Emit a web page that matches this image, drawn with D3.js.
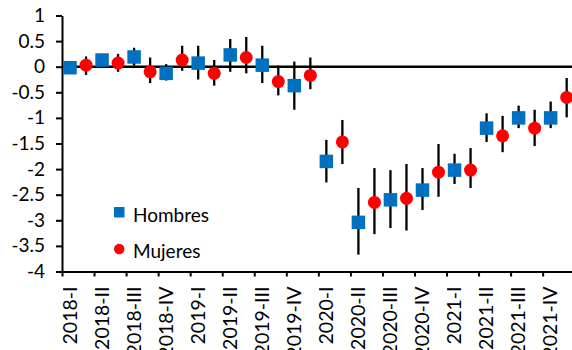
<!DOCTYPE html>
<html><head><meta charset="utf-8">
<script src="https://cdn.jsdelivr.net/npm/d3@7"></script>
<style>
html,body{margin:0;padding:0;background:#fff;}
svg{display:block;font-family:Lato, "Open Sans", sans-serif;}
</style></head>
<body>
<svg id="chart" width="572" height="350"></svg>
<script>
const quarters = ["2018-I","2018-II","2018-III","2018-IV","2019-I","2019-II","2019-III","2019-IV",
  "2020-I","2020-II","2020-III","2020-IV","2021-I","2021-II","2021-III","2021-IV"];
const hombres   = [-0.02, 0.13, 0.19, -0.13, 0.07, 0.23, 0.03, -0.37, -1.85, -3.04, -2.6, -2.41, -2.02, -1.2, -1.0, -1.0];
const hombresLo = [-0.12, 0.02, 0.02, -0.27, -0.25, -0.1, -0.32, -0.84, -2.26, -3.67, -3.15, -2.8, -2.29, -1.47, -1.2, -1.2];
const hombresHi = [0.1, 0.24, 0.37, 0.05, 0.41, 0.54, 0.41, 0.1, -1.43, -2.37, -2.02, -1.98, -1.7, -0.91, -0.76, -0.68];
const mujeres   = [0.03, 0.07, -0.1, 0.13, -0.13, 0.18, -0.29, -0.17, -1.47, -2.65, -2.57, -2.06, -2.02, -1.35, -1.2, -0.6];
const mujeresLo = [-0.16, -0.1, -0.32, -0.08, -0.37, -0.13, -0.56, -0.44, -1.9, -3.27, -3.2, -2.54, -2.37, -1.67, -1.55, -0.99];
const mujeresHi = [0.2, 0.25, 0.18, 0.41, 0.13, 0.58, 0.02, 0.18, -1.04, -1.98, -1.9, -1.51, -1.59, -0.96, -0.84, -0.22];
const yTicks = [1, 0.5, 0, -0.5, -1, -1.5, -2, -2.5, -3, -3.5, -4];
const seriesNames = ["Hombres", "Mujeres"];

const svg = d3.select("#chart");
const pLeft = 62, pRight = 574.7, pTop = 15.5, pBottom = 271.5;

const x = d3.scaleBand().domain(quarters).range([pLeft, pRight]).padding(0);
const bw = x.bandwidth();
const y = d3.scaleLinear().domain([-4, 1]).range([pBottom, pTop]);
const xh = q => x(q) + bw / 4;
const xm = q => x(q) + 3 * bw / 4;

// Y axis
const yAxis = svg.append("g").attr("transform", `translate(${pLeft},0)`)
  .call(d3.axisLeft(y).tickValues(yTicks).tickSize(6).tickSizeOuter(0).tickPadding(11).tickFormat(d => String(d)));
yAxis.select(".domain").attr("stroke", "#000").attr("stroke-width", 2);
yAxis.selectAll(".tick line").attr("stroke", "#000").attr("stroke-width", 2);
yAxis.selectAll("text").attr("font-size", 19).attr("fill", "#000").style("font-family", "Lato");

// X tick marks (category boundaries)
const xb = d3.scaleLinear().domain([0, quarters.length]).range([pLeft, pRight]);
const xTickAxis = svg.append("g").attr("transform", `translate(0,${pBottom})`)
  .call(d3.axisBottom(xb).tickValues(d3.range(0, quarters.length + 1)).tickSize(5).tickSizeOuter(0).tickFormat(""));
xTickAxis.select(".domain").attr("stroke", "#000").attr("stroke-width", 2);
xTickAxis.selectAll(".tick line").attr("stroke", "#000").attr("stroke-width", 2);

// X labels
const xLab = svg.append("g").attr("transform", `translate(${-bw / 4},${pBottom})`)
  .call(d3.axisBottom(x).tickSize(0).tickSizeOuter(0));
xLab.select(".domain").remove();
xLab.selectAll("text")
  .attr("font-size", 19.5).attr("fill", "#000").style("font-family", "Lato")
  .attr("transform", "rotate(-90)")
  .attr("x", -15).attr("y", 0).attr("dy", "0.35em")
  .style("text-anchor", "end");

// Zero line
svg.append("line").attr("x1", pLeft).attr("x2", 572).attr("y1", y(0)).attr("y2", y(0))
  .attr("stroke", "#000").attr("stroke-width", 2.5);

// Error bars
const eb = svg.append("g").attr("stroke", "#000").attr("stroke-width", 2.3);
eb.selectAll(".eh").data(quarters).join("line").attr("class", "eh")
  .attr("x1", d => xh(d)).attr("x2", d => xh(d))
  .attr("y1", (d, i) => y(hombresLo[i])).attr("y2", (d, i) => y(hombresHi[i]));
eb.selectAll(".em").data(quarters).join("line").attr("class", "em")
  .attr("x1", d => xm(d)).attr("x2", d => xm(d))
  .attr("y1", (d, i) => y(mujeresLo[i])).attr("y2", (d, i) => y(mujeresHi[i]));

// Markers
const sq = 13.5;
svg.append("g").selectAll("rect").data(quarters).join("rect")
  .attr("x", d => xh(d) - sq / 2).attr("y", (d, i) => y(hombres[i]) - sq / 2)
  .attr("width", sq).attr("height", sq).attr("fill", "#0070C0");
svg.append("g").selectAll("circle").data(quarters).join("circle")
  .attr("cx", d => xm(d)).attr("cy", (d, i) => y(mujeres[i]))
  .attr("r", 6.5).attr("fill", "#FF0000");

// Legend
const lg = svg.append("g");
lg.append("rect").attr("x", 114).attr("y", 207).attr("width", 10.5).attr("height", 10.5).attr("fill", "#0070C0");
lg.append("text").attr("x", 133).attr("y", 221.5).attr("font-size", 19).attr("fill", "#000").text(seriesNames[0]);
lg.append("circle").attr("cx", 119.2).attr("cy", 249).attr("r", 5.2).attr("fill", "#FF0000");
lg.append("text").attr("x", 133).attr("y", 257.5).attr("font-size", 19).attr("fill", "#000").text(seriesNames[1]);
</script>
</body></html>
